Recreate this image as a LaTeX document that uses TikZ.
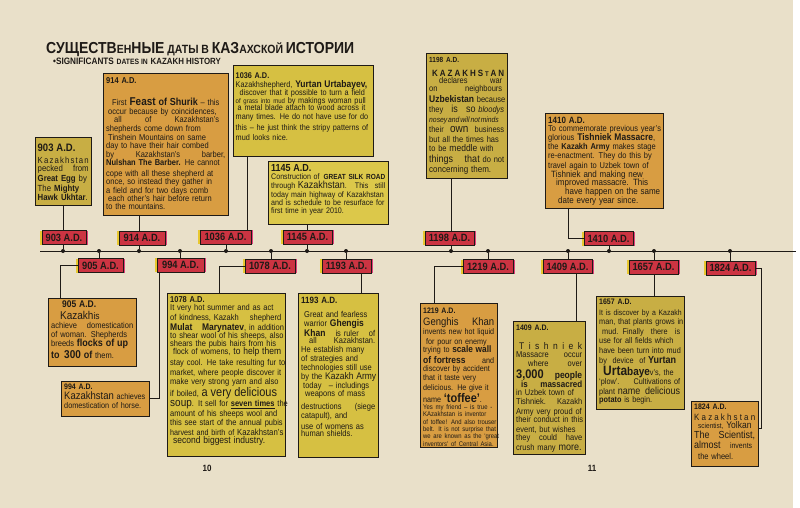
\documentclass[tikz,border=0pt]{standalone}
\usepackage{fontspec}
\setmainfont{Liberation Sans}[FakeStretch=0.88, Scale=1.136]
\setlength{\parindent}{0pt}
\definecolor{paper}{HTML}{E9E0C9}
\definecolor{labred}{HTML}{CC3442}
\definecolor{labyel}{HTML}{E8C830}
\definecolor{labmag}{HTML}{E0407A}
\definecolor{cOr}{HTML}{D89D42}
\definecolor{cYe}{HTML}{D6C042}
\definecolor{cYb}{HTML}{DCC84A}
\definecolor{cOl}{HTML}{C8AE44}
\definecolor{ink}{HTML}{1E1A16}
\newcommand{\fsz}[2]{{\fontsize{#1}{#1}\selectfont #2}}
\newcommand{\JL}[1]{\makebox[\hsize][s]{#1}}
\tikzset{
  conn/.style={draw=ink, line width=0.8pt},
  evbox/.style={draw=ink, line width=1pt, anchor=north west, inner sep=0pt, outer sep=0pt},
  evtext/.style={anchor=north west, inner sep=0pt, align=left, text=ink, font=\fontsize{7.5}{9}\selectfont},
  datelab/.style={draw=ink, line width=1pt, fill=labred, text=ink,
    font=\bfseries\fontsize{9.3}{10}\selectfont, minimum height=14pt, inner sep=0pt,
    preaction={fill=labyel, transform canvas={xshift=-1.6pt}},
    preaction={fill=labmag, transform canvas={xshift=1.6pt}}},
  tdot/.style={circle, fill=ink, inner sep=0pt, minimum size=4pt},
}
\begin{document}
\begin{tikzpicture}[x=1pt,y=-1pt]
\useasboundingbox (0,0) rectangle (800,508);
\fill[paper] (0,0) rectangle (800,508);
\fill[white] (793,0) rectangle (800,508);

% title
\node[anchor=base west, inner sep=0pt, text=ink] (title) at (46,54) {\bfseries
 \fsz{14}{СУЩЕСТВ}\fsz{10.5}{ЕН}\fsz{14}{НЫЕ} \fsz{10.5}{ДАТЫ В} \fsz{14}{КАЗ}\fsz{10.5}{АХСКОЙ} \fsz{14}{ИСТОРИИ}};
\node[anchor=base west, inner sep=0pt, text=ink] (subtitle) at (53,65) {\bfseries
 \fsz{8.2}{•SIGNIFICANTS} \fsz{6.8}{DATES IN} \fsz{7.9}{KAZAKH HISTORY}};

% timeline
\coordinate (tlA) at (40,251);
\coordinate (tlB) at (796,251);
\draw[conn, line width=1pt] (tlA) -- (tlB);

% dots
\foreach \n/\x in {903/63,905/99,914/139,994/180,1036/226,1078/271,1145/307,1193/346,
                   1198/451,1219/488,1409/568,1410/609,1657/654,1824/730}
  \node[tdot] (d\n) at (\x,251) {};

% connector helper coordinates
\coordinate (c1036) at (247,0);
\coordinate (c905) at (60,0);
\coordinate (c994) at (159,0);
\coordinate (c1078) at (219,0);
\coordinate (c1193) at (361,0);
\coordinate (c1219) at (434,0);
\coordinate (c1409) at (576,0);
\coordinate (c1410) at (568,238.5);
\coordinate (c1824) at (761,428);

% ---------- event boxes ----------
% 903
\node[evbox, fill=cOl, minimum width=56pt, minimum height=67pt] (b903) at (35,138) {};
\node[evtext, text width=51pt, font=\fontsize{7.8}{9.6}\selectfont] (t903) at (37.5,144) {%
{\bfseries\fontsize{9.5}{10}\selectfont 903 A.D.}\\[2pt]
\JL{K\hfill a\hfill z\hfill a\hfill k\hfill h\hfill s\hfill t\hfill a\hfill n}\\[-1pt]
\JL{pecked \hfill from}\\
\JL{\textbf{Great Egg} by}\\
\JL{The \textbf{Mighty}\hspace*{6pt}}\\
\textbf{Hawk Ukhtar}.};

% 914
\node[evbox, fill=cOr, minimum width=125pt, minimum height=141pt] (b914) at (103,74) {};
\node[evtext, text width=119pt, font=\fontsize{7.5}{8.6}\selectfont] (t914) at (106,77) {%
{\bfseries\fontsize{7.5}{9}\selectfont 914 A.D.}\\[14pt]
\hspace*{6pt}First {\bfseries\fontsize{10}{10}\selectfont Feast} {\bfseries\fontsize{9}{9}\selectfont of Shurik} – this\\
\JL{\hspace*{2pt}occur because by coincidences,}\\
\JL{\hspace*{8pt}all \hfill of \hfill Kazakhstan's\hspace*{6pt}}\\
\JL{shepherds come down from}\\
\JL{\hspace*{2pt}Tinshein Mountains on same}\\
\JL{day to have their hair combed}\\
\JL{by \hfill Kazakhstan's \hfill barber,}\\
\JL{\textbf{Nulshan The Barber.} He cannot}\\[1.5pt]
\JL{cope with all these shepherd at}\\
\JL{once, so instead they gather in}\\
\JL{a field and for two days comb}\\
\JL{\hspace*{2pt}each other's hair before return}\\[-0.5pt]
to the mountains.};

% 1036
\node[evbox, fill=cYe, minimum width=140pt, minimum height=90pt] (b1036) at (233,66) {};
\node[evtext, text width=135pt, font=\fontsize{7.3}{9.2}\selectfont] (t1036) at (235.5,73) {%
{\bfseries 1036 A.D.}\\[-1pt]
Kazakhshepherd, {\bfseries\fontsize{8.5}{9}\selectfont Yurtan Urtabayev,}\\[-1pt]
\JL{\hspace*{4pt}discover that it possible to turn a field}\\[-1.5pt]
\JL{{\fontsize{6}{6}\selectfont of grass into mud} by makings woman pull}\\[-1.5pt]
\JL{\hspace*{2pt}a metal blade attach to wood across it}\\
\JL{many times. He do not have use for do}\\[1pt]
\JL{this – he just think the stripy patterns of}\\[1pt]
mud looks nice.};

% 1145
\node[evbox, fill=cYb, minimum width=120pt, minimum height=63pt] (b1145) at (268,161) {};
\node[evtext, text width=114pt, font=\fontsize{7.1}{9}\selectfont] (t1145) at (271,164) {%
{\bfseries\fontsize{9}{9}\selectfont 1145 A.D.}\\[-1pt]
\JL{Construction of \hfill{\bfseries\fontsize{6.5}{6.5}\selectfont GREAT SILK ROAD}}\\
\JL{through {\fontsize{9}{9}\selectfont Kazakhstan}. \hfill This \hfill still}\\
\JL{today main highway of Kazakhstan}\\[-1pt]
\JL{and is schedule to be resurface for}\\[-1pt]
first time in year 2010.};

% 1198
\node[evbox, fill=cOl, minimum width=81pt, minimum height=124pt] (b1198) at (426,54) {};
\node[evtext, text width=75pt, font=\fontsize{7.5}{10}\selectfont] (t1198) at (429,57) {%
{\bfseries\fontsize{6.5}{7}\selectfont 1198 A.D.}\\[4pt]
\JL{\bfseries\fontsize{8}{8}\selectfont \hspace*{3pt}K\hfill A\hfill Z\hfill A\hfill K\hfill H\hfill S\hfill {\fontsize{6}{6}\selectfont T}\hfill A\hfill N}\\[-2.5pt]
\JL{\hspace*{10pt}declares\hfill war\hspace*{2pt}}\\[-2pt]
\JL{on\hfill neighbours\hspace*{2pt}}\\[1pt]
\JL{{\bfseries\fontsize{8.5}{8.5}\selectfont Uzbekistan} because}\\
\JL{they \hfill{\fontsize{9}{9}\selectfont is} \hfill{\fontsize{9}{9}\selectfont so} \textit{bloodys}}\\
{\itshape\fontsize{6.8}{7}\selectfont\spaceskip=0.8pt nosey and will not minds}\\
\JL{their \hfill{\fontsize{10}{10}\selectfont own} \hfill business}\\
\JL{but all the times has}\\[-1.5pt]
\JL{to be {\fontsize{8.5}{8.5}\selectfont meddle} with}\\[1pt]
\JL{{\fontsize{9}{9}\selectfont things \hfill that} do not}\\[0.5pt]
{\fontsize{8}{9}\selectfont concerning them.}};

% 1410
\node[evbox, fill=cOr, minimum width=118pt, minimum height=94pt] (b1410) at (545,114) {};
\node[evtext, text width=112pt, font=\fontsize{7.5}{9.1}\selectfont] (t1410) at (548,117) {%
{\bfseries\fontsize{8}{8}\selectfont 1410 A.D.}\\[-1pt]
\JL{To commemorate previous year's}\\
\JL{glorious {\bfseries\fontsize{8.5}{8.5}\selectfont Tishniek Massacre},}\\
\JL{the {\bfseries Kazakh Army} makes stage}\\
\JL{re-enactment. They do this by}\\
\JL{travel again to Uzbek town of}\\
{\fontsize{8}{8}\selectfont \hspace*{3pt}Tishniek and making new}\\[-1pt]
{\fontsize{8}{8}\selectfont \hspace*{8pt}improved massacre. This}\\
{\fontsize{8}{8}\selectfont \hspace*{17pt}have happen on the same}\\
{\fontsize{8}{8}\selectfont \hspace*{10pt}date every year since.}};

% 905
\node[evbox, fill=cOr, minimum width=88pt, minimum height=68pt] (b905) at (48,298) {};
\node[evtext, text width=82pt, font=\fontsize{7.5}{9.3}\selectfont] (t905) at (51,301) {%
\hspace*{11pt}{\bfseries\fontsize{8.5}{8.5}\selectfont 905 A.D.}\\[2pt]
\hspace*{9pt}{\fontsize{10}{10}\selectfont Kazakh}{\fontsize{8.5}{8.5}\selectfont is}\\
\JL{achieve \hfill domestication}\\[-0.5pt]
\JL{of woman. Shepherds}\\[-0.5pt]
\JL{breeds {\bfseries\fontsize{9}{9}\selectfont flocks of up}}\\[1pt]
{\bfseries\fontsize{9}{9}\selectfont to\, {\fontsize{10}{10}\selectfont 300} of} them.};

% 994
\node[evbox, fill=cOr, minimum width=88pt, minimum height=35pt] (b994) at (61,381) {};
\node[evtext, text width=82pt, font=\fontsize{7.3}{9.4}\selectfont] (t994) at (64,384) {%
{\bfseries\fontsize{7}{7}\selectfont 994 A.D.}\\[0.5pt]
{\fontsize{9.5}{9.5}\selectfont Kazakhstan} achieves\\[-0.5pt]
domestication of horse.};

% 1078
\node[evbox, fill=cYe, minimum width=118pt, minimum height=163pt] (b1078) at (167,293) {};
\node[evtext, text width=111pt, font=\fontsize{7.5}{9.7}\selectfont] (t1078) at (170,296) {%
{\bfseries 1078 A.D.}\\[-1pt]
\JL{It very hot summer and as act}\\
\JL{of kindness, Kazakh \hfill shepherd}\\
\JL{{\bfseries\fontsize{8.5}{8.5}\selectfont Mulat \hspace*{4pt} Marynatev}, in addition}\\[-1pt]
\JL{to shear wool of his sheeps, also}\\[-2pt]
\JL{shears the pubis hairs from his}\\[-1.5pt]
\JL{\hspace*{3pt}flock of womens, {\fontsize{8.5}{8.5}\selectfont to help them}}\\[1pt]
\JL{stay cool. He take resulting fur to}\\
\JL{market, where people discover it}\\
\JL{make very strong yarn and also}\\
\JL{if boiled, {\fontsize{11}{11}\selectfont a very delicious}}\\
\JL{{\fontsize{10}{10}\selectfont soup}. It sell for {\bfseries\underline{seven times}} the}\\
\JL{amount of his sheeps wool and}\\
\JL{this see start of the annual pubis}\\
\JL{\fontsize{7.2}{7.2}\selectfont harvest and birth of {\fontsize{7.8}{7.8}\selectfont Kazakhstan's}}\\[-1.5pt]
{\fontsize{8.5}{8.5}\selectfont \hspace*{3pt}second biggest industry.}};

% 1193
\node[evbox, fill=cYe, minimum width=80pt, minimum height=164pt] (b1193) at (298,293) {};
\node[evtext, text width=74pt, font=\fontsize{7.5}{9.2}\selectfont] (t1193) at (301,297) {%
{\bfseries\fontsize{8}{8}\selectfont 1193 A.D.}\\[5pt]
\JL{\hspace*{3pt}Great and fearless}\\
\JL{\hspace*{3pt}warrior {\bfseries\fontsize{8.5}{8.5}\selectfont Ghengis}\hspace*{10pt}}\\
\JL{\hspace*{3pt}{\bfseries\fontsize{8.5}{8.5}\selectfont Khan} \hfill is ruler \hfill of}\\[-1.5pt]
\JL{\hspace*{8pt}all \hfill Kazakhstan.}\\[-1pt]
\JL{He establish many}\\
\JL{of strategies and}\\
\JL{technologies still use}\\
\JL{by the {\fontsize{8.5}{8.5}\selectfont Kazakh Army}}\\
\JL{\hspace*{2pt}today \hfill – includings\hspace*{6pt}}\\[-1.5pt]
\JL{\hspace*{4pt}weapons of mass}\\[4pt]
\JL{destructions \hfill (siege}\\
catapult), and\\[1pt]
\JL{use of womens as}\\[-1.5pt]
human shields.};

% 1219
\node[evbox, fill=cOr, minimum width=77pt, minimum height=144pt] (b1219) at (420,303) {};
\node[evtext, text width=71pt, font=\fontsize{7.2}{9.5}\selectfont] (t1219) at (423,308) {%
{\bfseries\fontsize{7}{7}\selectfont 1219 A.D.}\\[2pt]
\JL{\fontsize{9.5}{9.5}\selectfont Genghis \hfill Khan}\\
\JL{invents new hot liquid}\\
\JL{\hspace*{3pt}for pour on enemy}\\[-1pt]
\JL{trying to {\bfseries\fontsize{8.3}{8.3}\selectfont scale wall}}\\[1pt]
\JL{{\bfseries\fontsize{8.5}{8.5}\selectfont of fortress} \hfill and}\\[-1.5pt]
\JL{discover by accident}\\
\JL{that it taste very}\\
\JL{delicious. He give it}\\
name {\bfseries\fontsize{11}{11}\selectfont ‘toffee’}.\\[-2pt]
{\fontsize{6}{6}\selectfont Yes my friend – is true -}\\[-2.2pt]
{\fontsize{6}{6}\selectfont KAzakhstan is inventor}\\[-2.2pt]
\JL{\fontsize{5.9}{6}\selectfont of toffee! And also trouser}\\[-2.2pt]
\JL{\fontsize{5.9}{6}\selectfont belt. It is not surprise that}\\[-2.2pt]
\JL{\fontsize{5.9}{6}\selectfont we are known as the ‘great}\\[-2.2pt]
\JL{\fontsize{5.9}{6}\selectfont inventors’ of Central Asia.}};

% 1409
\node[evbox, fill=cOl, minimum width=72pt, minimum height=133pt] (b1409) at (513,321) {};
\node[evtext, text width=66pt, font=\fontsize{7.5}{9.5}\selectfont] (t1409) at (516,325) {%
{\bfseries\fontsize{7}{7}\selectfont 1409 A.D.}\\[9pt]
\JL{\fontsize{8.5}{8.5}\selectfont \hspace*{3pt}T\hfill i\hfill s\hfill h\hfill n\hfill i\hfill e\hfill k}\\[-1.5pt]
\JL{Massacre \hfill occur}\\
\JL{\hspace*{12pt}where \hfill over}\\[2.5pt]
\JL{{\bfseries\fontsize{11}{11}\selectfont 3,000} \hfill {\bfseries\fontsize{8.5}{8.5}\selectfont people}}\\[-1pt]
\JL{\hspace*{5pt}{\bfseries\fontsize{8}{8}\selectfont is \hfill massacred}}\\[-1.5pt]
\JL{in Uzbek town of}\\
\JL{Tishniek. \hfill Kazakh}\\
\JL{Army very proud of}\\[-1pt]
\JL{their conduct in this}\\
\JL{event, but wishes}\\[-1pt]
\JL{they \hfill could \hfill have}\\
crush many {\fontsize{9}{9}\selectfont more.}};

% 1657
\node[evbox, fill=cOl, minimum width=88pt, minimum height=113pt] (b1657) at (596,296) {};
\node[evtext, text width=81pt, font=\fontsize{7.3}{9.8}\selectfont] (t1657) at (599,299) {%
{\bfseries\fontsize{7}{7}\selectfont 1657 A.D.}\\[1pt]
\JL{\fontsize{6.9}{6.9}\selectfont It is discover by a Kazakh}\\[-1pt]
\JL{man, that plants grows in}\\
\JL{\hspace*{3pt}mud. Finally \hfill there \hfill is}\\
\JL{use for all fields which}\\
\JL{have been turn into mud}\\
\JL{by \hfill device \hfill of {\bfseries\fontsize{9}{9}\selectfont Yurtan}\hspace*{4pt}}\\
\JL{\hspace*{4pt}{\bfseries\fontsize{12}{12}\selectfont Urta}{\bfseries\fontsize{10}{10}\selectfont baye}v's, the}\\[-1pt]
\JL{‘plow’. \hfill Cultivations of}\\
\JL{plant {\fontsize{9}{9}\selectfont name \hfill delicious}}\\[-1.5pt]
{\bfseries potato} is begin.};

% 1824
\node[evbox, fill=cOr, minimum width=67pt, minimum height=65pt] (b1824) at (691,401) {};
\node[evtext, text width=61pt, font=\fontsize{7.5}{9.8}\selectfont] (t1824) at (694,404) {%
{\bfseries\fontsize{7}{7}\selectfont 1824 A.D.}\\[1pt]
\JL{\fontsize{8}{8}\selectfont K\hfill a\hfill z\hfill a\hfill k\hfill h\hfill s\hfill t\hfill a\hfill n}\\[-1.5pt]
\JL{\hspace*{4pt}{\fontsize{6.5}{6.5}\selectfont scientist,} {\fontsize{8.5}{8.5}\selectfont Yolkan}}\\
\JL{\fontsize{9}{9}\selectfont The \hfill Scientist,}\\
\JL{{\fontsize{9}{9}\selectfont almost} \hfill {\fontsize{7}{7}\selectfont invents}\hspace*{3pt}}\\[1pt]
\hspace*{4pt}the wheel.};

% ---------- date labels ----------
\node[datelab, minimum width=44pt] (l903) at (64,237.5) {903 A.D.};
\node[datelab, minimum width=46pt] (l914) at (142,238) {914 A.D.};
\node[datelab, minimum width=51pt] (l1036) at (225.5,237) {1036 A.D.};
\node[datelab, minimum width=49pt] (l1145) at (307.5,237) {1145 A.D.};
\node[datelab, minimum width=49pt] (l1198) at (449.5,238) {1198 A.D.};
\node[datelab, minimum width=49pt] (l1410) at (608.5,238.5) {1410 A.D.};
\node[datelab, minimum width=45pt] (l905) at (100.5,265.5) {905 A.D.};
\node[datelab, minimum width=47pt] (l994) at (180.5,265) {994 A.D.};
\node[datelab, minimum width=50pt] (l1078) at (270,266) {1078 A.D.};
\node[datelab, minimum width=49pt] (l1193) at (346.5,266) {1193 A.D.};
\node[datelab, minimum width=50pt] (l1219) at (488,266.5) {1219 A.D.};
\node[datelab, minimum width=49pt] (l1409) at (567.5,266.5) {1409 A.D.};
\node[datelab, minimum width=49pt] (l1657) at (653.5,267) {1657 A.D.};
\node[datelab, minimum width=49pt] (l1824) at (730.5,268) {1824 A.D.};

% ---------- connectors ----------
% upper
\draw[conn] (b903.south -| d903) -- (l903.north -| d903);
\draw[conn] (l903.south -| d903) -- (d903);
\draw[conn] (b914.south -| d914) -- (l914.north -| d914);
\draw[conn] (l914.south -| d914) -- (d914);
\draw[conn] (b1036.south -| c1036) -- (l1036.north -| c1036);
\draw[conn] (l1036.south -| d1036) -- (d1036);
\draw[conn] (b1145.south -| d1145) -- (l1145.north -| d1145);
\draw[conn] (l1145.south -| d1145) -- (d1145);
\draw[conn] (b1198.south -| d1198) -- (l1198.north -| d1198);
\draw[conn] (l1198.south -| d1198) -- (d1198);
\draw[conn] (b1410.south -| c1410) -- (c1410) -- (l1410.west);
\draw[conn] (l1410.south -| d1410) -- (d1410);
% lower
\draw[conn] (d905) -- (l905.north -| d905);
\draw[conn] (l905.west) -| (b905.north -| c905);
\draw[conn] (d994) -- (l994.north -| d994);
\draw[conn] (l994.south -| c994) |- (b994.east);
\draw[conn] (d1078) -- (l1078.north -| d1078);
\draw[conn] (l1078.west) -| (b1078.north -| c1078);
\draw[conn] (d1193) -- (l1193.north -| d1193);
\draw[conn] (l1193.south -| c1193) -- (b1193.north -| c1193);
\draw[conn] (d1219) -- (l1219.north -| d1219);
\draw[conn] (l1219.west) -| (b1219.north -| c1219);
\draw[conn] (d1409) -- (l1409.north -| d1409);
\draw[conn] (l1409.south -| c1409) -- (b1409.north -| c1409);
\draw[conn] (d1657) -- (l1657.north -| d1657);
\draw[conn] (l1657.south -| d1657) -- (b1657.north -| d1657);
\draw[conn] (d1824) -- (l1824.north -| d1824);
\draw[conn] (l1824.east) -| (c1824) -- (c1824 -| b1824.east);

% page numbers
\node[text=ink, font=\bfseries\fontsize{8}{8}\selectfont] (p10) at (207,468) {10};
\node[text=ink, font=\bfseries\fontsize{8}{8}\selectfont] (p11) at (592,468) {11};
\end{tikzpicture}
\end{document}
